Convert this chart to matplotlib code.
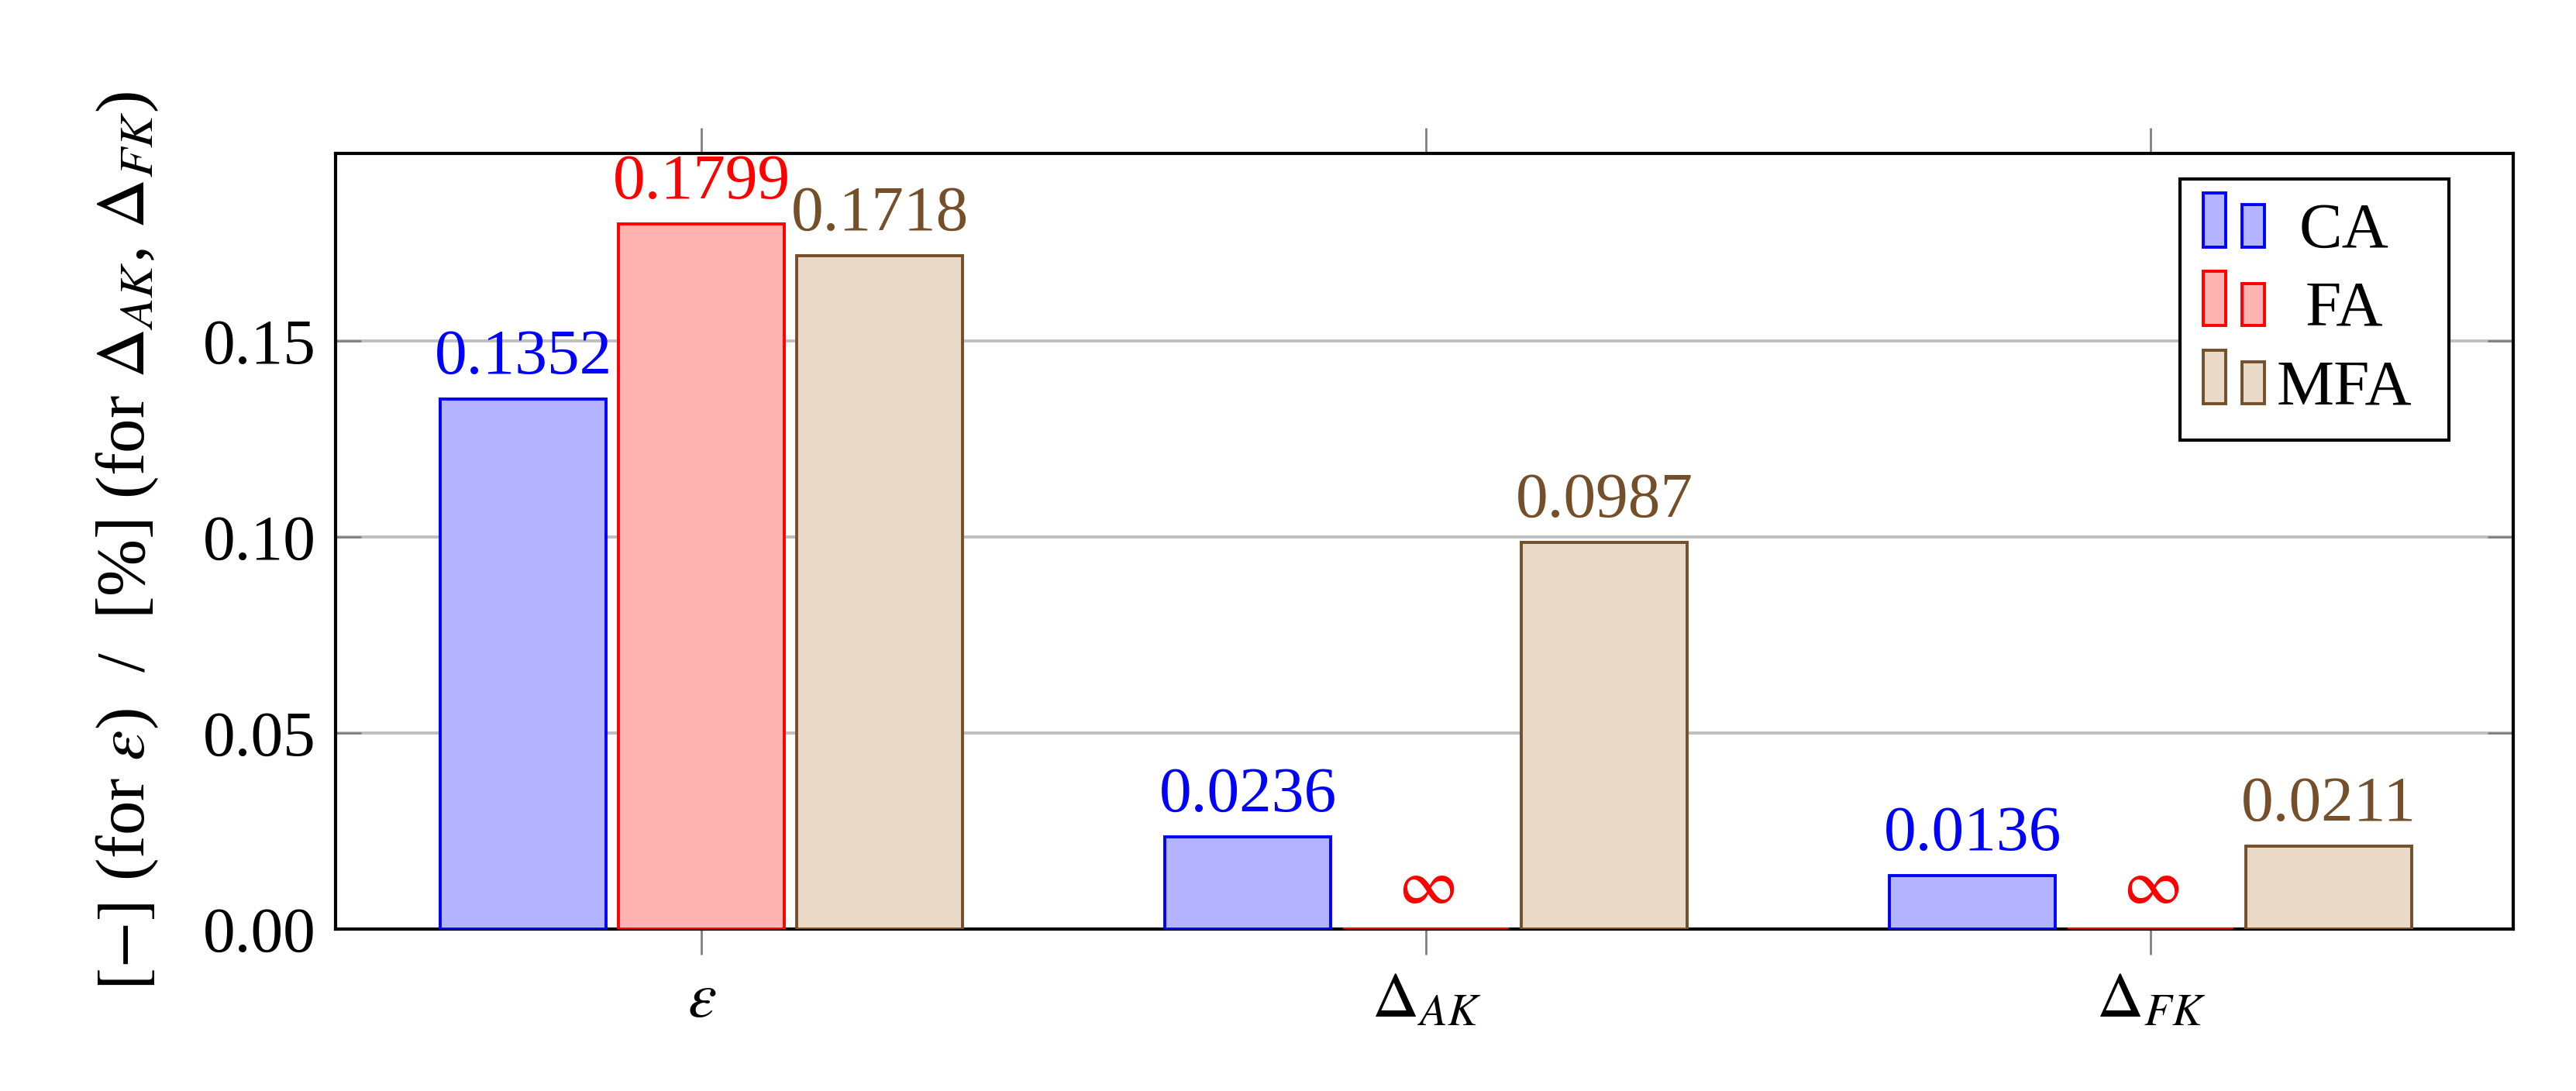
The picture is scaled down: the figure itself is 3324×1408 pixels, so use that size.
import numpy as np
import matplotlib
matplotlib.use("Agg")
import matplotlib.pyplot as plt
from matplotlib.patches import Rectangle
from matplotlib.text import Text
from matplotlib.legend_handler import HandlerBase

plt.rcParams['font.family'] = ['Liberation Serif', 'DejaVu Serif']
plt.rcParams['mathtext.fontset'] = 'stix'

# ---- data ----
categories = [r"$\varepsilon$", r"$\Delta_{AK}$", r"$\Delta_{FK}$"]
series_names = ["CA", "FA", "MFA"]
ca_values = [0.1352, 0.0236, 0.0136]
fa_values = [0.1799, np.inf, np.inf]
mfa_values = [0.1718, 0.0987, 0.0211]
y_ticks = [0.00, 0.05, 0.10, 0.15]

# ---- style ----
face_colors = ['#b3b3ff', '#ffb3b3', '#ead9c6']
edge_colors = ['#0000ff', '#ff0000', '#744f2a']
FS = 30

fig = plt.figure(figsize=(16.62, 7.04), dpi=200)
ax = fig.add_axes([0.1303, 0.1484, 0.9756 - 0.1303, 0.8594 - 0.1484])

x = np.arange(len(categories))
width = 0.229
offset = 0.246
all_series = [ca_values, fa_values, mfa_values]
bar_containers = []
for i, vals in enumerate(all_series):
    vals = np.asarray(vals, dtype=float)
    heights = np.where(np.isinf(vals), 0.0, vals)
    bc = ax.bar(x + (i - 1) * offset, heights, width,
                facecolor=face_colors[i], edgecolor=edge_colors[i],
                linewidth=1.4, label=series_names[i], zorder=3)
    bar_containers.append(bc)
    for rect, v in zip(bc, vals):
        lab = r"$\infty$" if np.isinf(v) else f"{v:.4f}"
        ax.annotate(lab, (rect.get_x() + rect.get_width() / 2, rect.get_height()),
                    xytext=(0, 12), textcoords='offset points',
                    ha='center', va='baseline', fontsize=FS,
                    color=edge_colors[i], zorder=5)

ax.set_xlim(-0.505, 2.5)
ax.set_ylim(0, 0.1979)
ax.set_xticks(x, categories)
ax.set_yticks(y_ticks, [f"{t:.2f}" for t in y_ticks])
ax.tick_params(axis='x', which='major', direction='out', top=True, bottom=True,
               length=12, width=1.0, color='#808080', labelsize=FS, pad=8)
ax.tick_params(axis='y', which='major', direction='in', left=True, right=True,
               length=12, width=1.0, color='#808080', labelsize=FS, pad=9)
ax.yaxis.grid(True, color='#bfbfbf', linewidth=1.4, zorder=0)
ax.set_axisbelow(True)
for s in ax.spines.values():
    s.set_linewidth(1.5)
    s.set_color('black')
    s.set_zorder(2.5)

ax.set_ylabel(r"$[-]$ (for $\varepsilon$)  /  [%] (for $\Delta_{AK}$, $\Delta_{FK}$)",
              fontsize=32, labelpad=20)


class TwoBarHandler(HandlerBase):
    def __init__(self, label):
        super().__init__()
        self.label = label

    def create_artists(self, legend, orig_handle, xdescent, ydescent,
                       width, height, fontsize, trans):
        fc = orig_handle.get_facecolor()
        ec = orig_handle.get_edgecolor()
        x0 = -xdescent
        y0 = -ydescent
        bw = 10.4
        r1 = Rectangle((x0 + 0.5, y0), bw, 25.0, facecolor=fc, edgecolor=ec,
                       linewidth=1.4, transform=trans)
        r2 = Rectangle((x0 + 0.5 + bw + 7.6, y0), bw, 19.5, facecolor=fc,
                       edgecolor=ec, linewidth=1.4, transform=trans)
        t = Text(x0 + 66.0, y0, self.label, ha='center', va='baseline',
                 fontsize=fontsize, color='black', transform=trans,
                 fontfamily=['Liberation Serif', 'DejaVu Serif'])
        return [r1, r2, t]


handles = [bc.patches[0] for bc in bar_containers]
leg = ax.legend(handles, ['', '', ''],
                handler_map={h: TwoBarHandler(n) for h, n in zip(handles, series_names)},
                loc='upper right', bbox_to_anchor=(0.9705, 0.967),
                borderaxespad=0, fontsize=FS, handlelength=3.47,
                handletextpad=0, borderpad=0.35, labelspacing=0.3,
                fancybox=False, framealpha=1, edgecolor='black')
leg.get_frame().set_linewidth(1.5)
leg.set_zorder(6)

fig.savefig("out.png", dpi=200)
